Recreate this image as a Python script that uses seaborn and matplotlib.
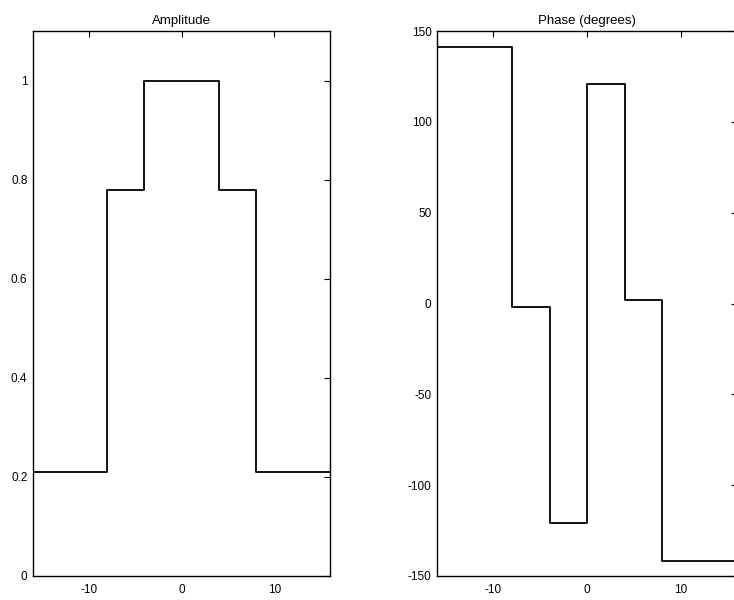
import matplotlib
matplotlib.use("Agg")
import matplotlib.pyplot as plt
import seaborn as sns
import pandas as pd

amp_edges = [-16, -8, -4, 4, 8, 16]
amp_values = [0.21, 0.78, 1.0, 0.78, 0.21]
phase_edges = [-16, -8, -4, 0, 4, 8, 16]
phase_values = [141, -2, -121, 121, 2, -142]
amp_yticks = [0, 0.2, 0.4, 0.6, 0.8, 1]
amp_ylabels = ["0", "0.2", "0.4", "0.6", "0.8", "1"]
phase_yticks = [-150, -100, -50, 0, 50, 100, 150]
x_ticks = [-10, 0, 10]

sns.set_style("white")
plt.rcParams["font.family"] = ["Liberation Sans", "DejaVu Sans"]
plt.rcParams["axes.unicode_minus"] = False
plt.rcParams["text.color"] = "black"

fig = plt.figure(figsize=(7.34, 6.0), dpi=100)
ax1 = fig.add_axes([33/734, 24/600, 297/734, 545/600])
ax2 = fig.add_axes([437/734, 24/600, 300/734, 545/600])

def stairs_df(edges, vals):
    return pd.DataFrame({"x": edges, "y": list(vals) + [vals[-1]]})

sns.lineplot(data=stairs_df(amp_edges, amp_values), x="x", y="y", ax=ax1,
             drawstyle="steps-post", color="black", linewidth=1.3)
sns.lineplot(data=stairs_df(phase_edges, phase_values), x="x", y="y", ax=ax2,
             drawstyle="steps-post", color="black", linewidth=1.3)

ax1.set_xlim(-16, 16)
ax1.set_ylim(0, 1.1)
ax1.set_yticks(amp_yticks)
ax1.set_yticklabels(amp_ylabels)
ax1.set_title("Amplitude", fontsize=9.5, pad=5, color="black")

ax2.set_xlim(-16, 16)
ax2.set_ylim(-150, 150)
ax2.set_yticks(phase_yticks)
ax2.set_title("Phase (degrees)", fontsize=9.5, pad=5, color="black")

for ax in (ax1, ax2):
    ax.set_xticks(x_ticks)
    ax.set_xlabel("")
    ax.set_ylabel("")
    ax.tick_params(direction="in", top=True, right=True, length=4, width=0.8,
                   labelsize=8.5, colors="black")
    ax.tick_params(axis="x", pad=6)
    ax.tick_params(axis="y", pad=4)
    for s in ax.spines.values():
        s.set_color("black")
        s.set_linewidth(1.0)
        s.set_visible(True)

fig.savefig("out.png", dpi=100, facecolor="white")
